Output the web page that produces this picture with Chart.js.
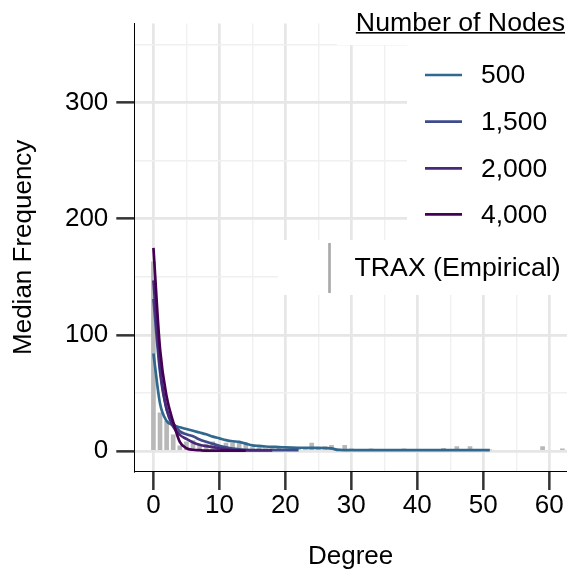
<!DOCTYPE html>
<html>
<head>
<meta charset="utf-8">
<script src="https://cdn.jsdelivr.net/npm/chart.js@4/dist/chart.umd.min.js"></script>
<style>
  html, body { margin: 0; padding: 0; background: #ffffff; }
  canvas { display: block; }
</style>
</head>
<body>
<canvas id="c" width="567" height="576"></canvas>
<script>
// ---- data ----
const seriesLabels = ['500', '1,500', '2,000', '4,000'];
const seriesColors = ['#31688e', '#3e4c8a', '#482878', '#440154'];

// median frequency per degree (index = degree)
const nodes500 = [84, 41, 26, 22.5, 20.5, 19, 17.5, 16, 14.5, 12.5, 11, 9.5, 8.5, 8, 6.5, 5, 4.5, 4, 3.7, 3.5,
  3.2, 3.0, 2.9, 2.9, 2.8, 2.8, 2.7, 2.4, 1.0, 0.9, 0.9, 0.9, 0.9, 0.9, 0.9, 0.9, 0.9, 0.9, 0.9, 0.9,
  0.9, 0.9, 0.9, 0.9, 0.9, 0.9, 0.9, 0.9, 0.9, 0.9, 0.9, 0.9];
const nodes1500 = [131, 68, 36, 24, 17, 14.5, 12.8, 10, 8, 6.3, 4.5, 3.2, 2.2, 1.6, 1.2, 0.9, 0.9, 0.9, 0.9, 0.9, 0.9, 0.9, 0.9];
const nodes2000 = [147, 72, 36, 21, 14, 10.5, 7.5, 5.5, 4.3, 3.5, 2.5, 1.5, 0.9, 0.6, 0.6, 0.6, 0.6, 0.6, 0.6];
const nodes4000 = [175, 88, 47, 25, 8, 2.5, 1.2, 0.8, 0.5, 0.5, 0.5, 0.5, 0.5, 0.5, 0.5];

// TRAX empirical histogram
const traxDegrees = [0, 1, 2, 3, 4, 5, 6, 7, 8, 9, 10, 11, 12, 13, 14, 15, 16, 17, 18, 19, 21, 22, 23, 24, 25, 26, 27, 28, 29, 30, 33, 38, 44, 46, 48, 49, 51, 59, 62];
const traxValues  = [163, 33, 26, 14, 4.5, 8, 9, 5, 6, 8, 5, 7, 7, 7, 7, 3, 3, 2, 2, 3, 2, 1.5, 3, 7, 2, 4, 5, 2, 5, 2, 2, 2, 2.5, 4, 4, 1.5, 1, 4, 2];

// axis ticks
const xTicks = [0, 5, 10, 15, 20, 25, 30, 35, 40, 45, 50, 55, 60];
const xLabeled = [0, 10, 20, 30, 40, 50, 60];
const yTicks = [0, 50, 100, 150, 200, 250, 300, 350];
const yLabeled = [0, 100, 200, 300];

const legendTitle = 'Number of Nodes';
const traxLabel = 'TRAX (Empirical)';

// ---- build ----
const toPts = arr => arr.map((v, i) => ({ x: i, y: v }));
const seriesData = [nodes500, nodes1500, nodes2000, nodes4000];

const FONT = 'Liberation Sans, Arial, sans-serif';

const lineSets = seriesData.map((arr, k) => ({
  type: 'line',
  label: seriesLabels[k],
  data: toPts(arr),
  borderColor: seriesColors[k],
  backgroundColor: seriesColors[k],
  borderWidth: 2.7,
  pointRadius: 0,
  fill: false,
  cubicInterpolationMode: 'monotone',
  order: 3 - k
}));

const barSet = {
  type: 'bar',
  label: traxLabel,
  data: traxDegrees.map((d, i) => ({ x: d, y: traxValues[i] })),
  backgroundColor: '#b8b8b8',
  borderWidth: 0,
  barThickness: 4,
  order: 10
};

const isIn = (arr, v) => arr.some(a => Math.abs(a - v) < 1e-9);
const tv = c => (c && c.tick) ? c.tick.value : NaN;

const legendPlugin = {
  id: 'customLegend',
  beforeDatasetsDraw(chart) {
    const ctx = chart.ctx;
    ctx.save();
    ctx.fillStyle = '#ffffff';
    ctx.fillRect(337, 0, 230, 45);
    ctx.fillRect(407, 45, 160, 195);
    ctx.fillRect(278, 240, 289, 55);
    ctx.restore();
  },
  afterDatasetsDraw(chart) {
    const ctx = chart.ctx;
    ctx.save();
    ctx.fillStyle = '#000000';
    ctx.font = '26.7px ' + FONT;
    ctx.textBaseline = 'alphabetic';
    ctx.textAlign = 'right';
    ctx.fillText(legendTitle, 565, 30.5);
    const w = ctx.measureText(legendTitle).width;
    ctx.fillRect(565 - w, 32, w, 1.6);

    ctx.textAlign = 'left';
    ctx.textBaseline = 'middle';
    ctx.font = '26.5px ' + FONT;
    const keyY = [75, 121.7, 168.3, 214.3];
    seriesLabels.forEach((lab, k) => {
      ctx.strokeStyle = seriesColors[k];
      ctx.lineWidth = 2.7;
      ctx.beginPath();
      ctx.moveTo(425, keyY[k]);
      ctx.lineTo(462, keyY[k]);
      ctx.stroke();
      ctx.fillText(lab, 481, keyY[k] + 1);
    });

    ctx.strokeStyle = '#aaaaaa';
    ctx.lineWidth = 2.7;
    ctx.beginPath();
    ctx.moveTo(329.5, 243);
    ctx.lineTo(329.5, 293);
    ctx.stroke();
    ctx.font = '26.7px ' + FONT;
    ctx.fillText(traxLabel, 354.5, 269);
    ctx.restore();
  }
};

new Chart(document.getElementById('c'), {
  type: 'bar',
  data: { datasets: [...lineSets, barSet] },
  options: {
    responsive: false,
    animation: false,
    devicePixelRatio: 1,
    layout: { padding: { top: 21.7, right: 0, left: 0, bottom: 0 } },
    plugins: { legend: { display: false }, tooltip: { enabled: false } },
    scales: {
      x: {
        type: 'linear',
        position: 'bottom',
        min: -2.9,
        max: 62.7,
        offset: false,
        afterBuildTicks: s => { s.ticks = xTicks.map(v => ({ value: v })); },
        afterFit: s => { s.height = 105; },
        ticks: {
          autoSkip: false,
          maxRotation: 0,
          padding: 0,
          color: '#000000',
          font: { family: FONT, size: 26 },
          callback: v => isIn(xLabeled, v) ? String(v) : ''
        },
        grid: {
          offset: false,
          color: c => isIn(xLabeled, tv(c)) ? '#e6e6e6' : '#f0f0f0',
          lineWidth: c => isIn(xLabeled, tv(c)) ? 2.7 : 1.4,
          tickLength: 19,
          tickColor: c => isIn(xLabeled, tv(c)) ? '#333333' : 'rgba(0,0,0,0)',
          tickWidth: c => isIn(xLabeled, tv(c)) ? 2.5 : 0
        },
        border: { display: true, color: '#000000', width: 1 },
        title: {
          display: true,
          text: 'Degree',
          color: '#000000',
          font: { family: FONT, size: 26 },
          padding: { top: 0, bottom: 4 }
        }
      },
      y: {
        type: 'linear',
        position: 'left',
        min: -17.1,
        max: 368,
        afterBuildTicks: s => { s.ticks = yTicks.map(v => ({ value: v })); },
        afterFit: s => { s.width = 134.3; },
        ticks: {
          autoSkip: false,
          padding: 8,
          color: '#000000',
          font: { family: FONT, size: 26 },
          callback: v => isIn(yLabeled, v) ? String(v) : ''
        },
        grid: {
          offset: false,
          color: c => isIn(yLabeled, tv(c)) ? '#e6e6e6' : '#f0f0f0',
          lineWidth: c => isIn(yLabeled, tv(c)) ? 2.7 : 1.4,
          tickLength: 18,
          tickColor: c => isIn(yLabeled, tv(c)) ? '#333333' : 'rgba(0,0,0,0)',
          tickWidth: c => isIn(yLabeled, tv(c)) ? 2.5 : 0
        },
        border: { display: true, color: '#000000', width: 1 },
        title: {
          display: true,
          text: 'Median Frequency',
          color: '#000000',
          font: { family: FONT, size: 26 },
          padding: { top: 8.4, bottom: 0 }
        }
      }
    }
  },
  plugins: [legendPlugin]
});
</script>
</body>
</html>
